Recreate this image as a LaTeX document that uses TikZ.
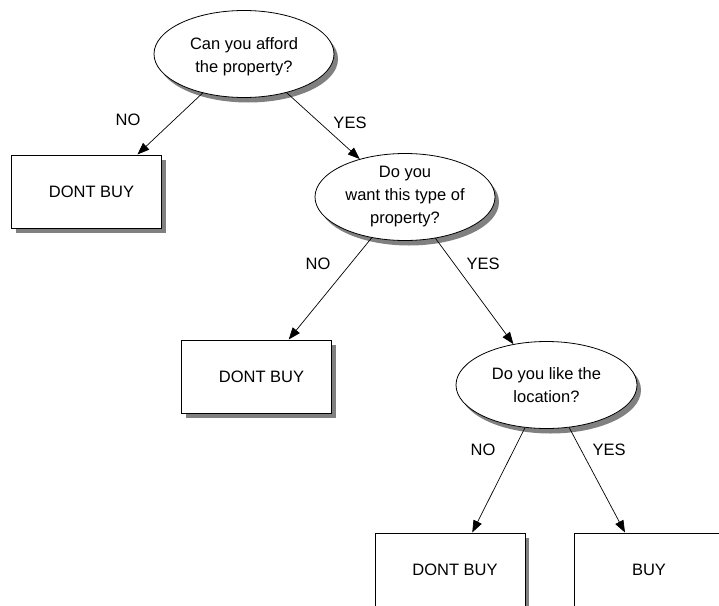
\documentclass[tikz,border=0pt]{standalone}
\usepackage{fontspec}
\setmainfont{Liberation Sans}
\usetikzlibrary{shapes.geometric,shadows,arrows.meta}
\begin{document}
\begin{tikzpicture}[x=1pt,y=-1pt,
  shade/.style={drop shadow={shadow xshift=4pt,shadow yshift=-5pt,fill=black!50,opacity=1}},
  decision/.style={ellipse,draw,line width=0.8pt,fill=white,minimum width=180pt,minimum height=87pt,inner sep=0pt,shade},
  outcome/.style={rectangle,draw,line width=1pt,fill=white,minimum width=150pt,minimum height=73pt,inner sep=0pt,shade},
  txt/.style={font=\fontsize{16.5}{23}\selectfont,align=center,inner sep=0pt},
  conn/.style={line width=0.7pt,-{Triangle[length=12pt,width=9pt]}},
  elabel/.style={font=\fontsize{16.5}{20}\selectfont,inner sep=0pt}
]
\clip (0,0) rectangle (719,605);
\fill[white] (0,0) rectangle (719,605);

\node[decision,label={[txt,yshift=-3pt]center:Can you afford\\the property?}] (e1) at (244,54) {};
\node[decision,label={[txt]center:Do you\\want this type of\\property?}] (e2) at (405,197) {};
\node[decision,minimum width=181pt,label={[txt]center:Do you like the\\location?}] (e3) at (546.5,385) {};

\node[outcome,label={[txt,xshift=5pt]center:DONT BUY}] (b1) at (86.5,191.5) {};
\node[outcome,label={[txt,xshift=5pt]center:DONT BUY}] (b2) at (256.5,376.5) {};
\node[outcome,label={[txt,xshift=5pt]center:DONT BUY}] (b3) at (450,569.5) {};
\node[outcome,label={[txt]center:BUY}] (b4) at (649,569.5) {};

\draw[conn] (e1) -- (b1.36);
\draw[conn] (e1) -- (e2.140);
\draw[conn] (e2) -- (b2.49);
\draw[conn] (e2) -- (e3.129);
\draw[conn] (e3) -- (b3.59);
\draw[conn] (e3) -- (b4.123);

\node[elabel] (n1) at (128,120) {NO};
\node[elabel] (y1) at (350,123) {YES};
\node[elabel] (n2) at (318,264) {NO};
\node[elabel] (y2) at (483,264) {YES};
\node[elabel] (n3) at (483,450) {NO};
\node[elabel] (y3) at (609,450) {YES};
\end{tikzpicture}
\end{document}
